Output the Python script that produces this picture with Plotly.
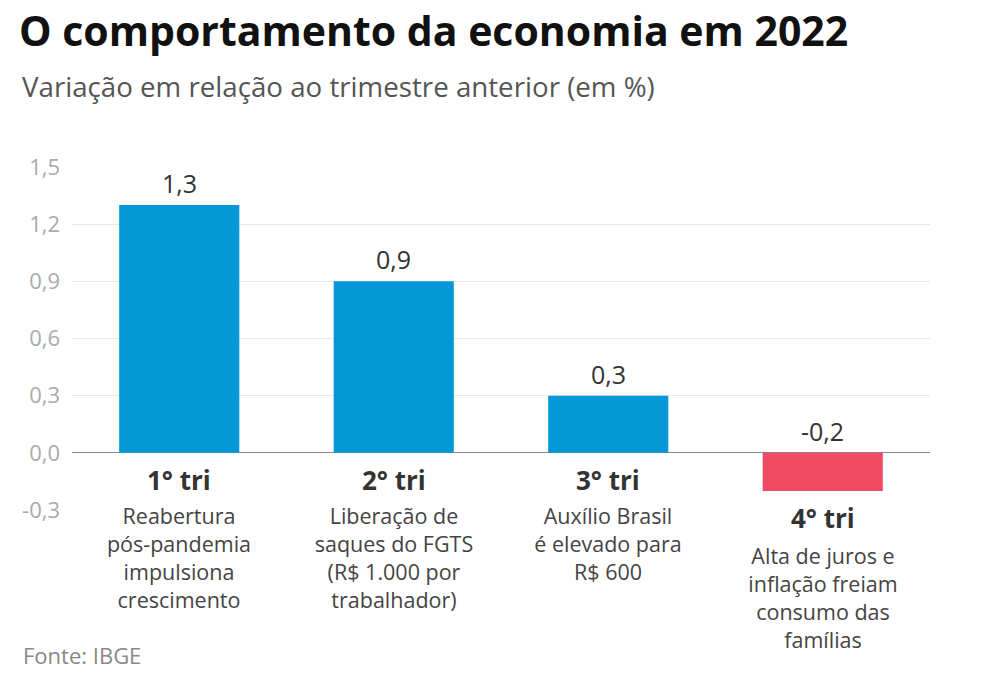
import plotly.graph_objects as go

categories = ["1° tri", "2° tri", "3° tri", "4° tri"]
values = [1.3, 0.9, 0.3, -0.2]
value_labels = ["1,3", "0,9", "0,3", "-0,2"]
descriptions = [
    ["Reabertura", "pós-pandemia", "impulsiona", "crescimento"],
    ["Liberação de", "saques do FGTS", "(R$ 1.000 por", "trabalhador)"],
    ["Auxílio Brasil", "é elevado para", "R$ 600"],
    ["Alta de juros e", "inflação freiam", "consumo das", "famílias"],
]
tick_vals = [-0.3, 0.0, 0.3, 0.6, 0.9, 1.2, 1.5]
tick_text = ["-0,3", "0,0", "0,3", "0,6", "0,9", "1,2", "1,5"]

FONT = "Open Sans"
BLUE = "#0497d8"
RED = "#ef4b63"
colors = [BLUE if v >= 0 else RED for v in values]

# layout constants (pixels, page coordinates)
W, H = 984, 684
ML, MR, MT, MB = 72, 54, 167, 174
PW = W - ML - MR
PH = H - MT - MB
DESC_SIZE = 21.5
LINE_PX = DESC_SIZE * 1.3

def py_to_paper(py):
    return (H - MB - py) / PH

def px_to_paper(px):
    return (px - ML) / PW

fig = go.Figure()
fig.add_trace(go.Bar(
    x=categories, y=values, marker_color=colors, marker_line_width=0,
    width=0.56, hoverinfo="skip",
))

annotations = []
for c, v, lab, lines in zip(categories, values, value_labels, descriptions):
    annotations.append(dict(
        x=c, y=max(v, 0), xref="x", yref="y", text=lab, showarrow=False,
        yanchor="bottom", yshift=3, font=dict(family=FONT, size=25, color="#333333"),
    ))
    neg = v < 0
    head_mid = 518 if neg else 480
    annotations.append(dict(
        x=c, y=py_to_paper(head_mid), xref="x", yref="paper",
        text="<b>" + c + "</b>", showarrow=False, yanchor="middle",
        font=dict(family=FONT, size=26, color="#333333"), bgcolor="white",
        borderpad=3,
    ))
    first_mid = 556 if neg else 516
    block_mid = first_mid + (len(lines) - 1) * LINE_PX / 2
    annotations.append(dict(
        x=c, y=py_to_paper(block_mid), xref="x", yref="paper",
        text="<br>".join(lines), showarrow=False, yanchor="middle",
        font=dict(family=FONT, size=DESC_SIZE, color="#444444"),
        bgcolor="white", borderpad=2, width=172,
    ))

annotations += [
    dict(x=px_to_paper(18), y=py_to_paper(0.5), xref="paper", yref="paper",
         xanchor="left", yanchor="top", showarrow=False, borderpad=0,
         text="<b>O comportamento da economia em 2022</b>",
         font=dict(family=FONT, size=41, color="#111111")),
    dict(x=px_to_paper(20), y=py_to_paper(86), xref="paper", yref="paper",
         xanchor="left", yanchor="middle", showarrow=False,
         text="Variação em relação ao trimestre anterior (em %)",
         font=dict(family=FONT, size=27.7, color="#555555")),
    dict(x=px_to_paper(21), y=py_to_paper(655), xref="paper", yref="paper",
         xanchor="left", yanchor="middle", showarrow=False,
         text="Fonte: IBGE",
         font=dict(family=FONT, size=22, color="#888888")),
]

fig.update_layout(
    width=W, height=H,
    margin=dict(l=ML, r=MR, t=MT, b=MB),
    paper_bgcolor="white", plot_bgcolor="white",
    showlegend=False,
    separators=",.",
    font=dict(family=FONT),
    xaxis=dict(showticklabels=False, showgrid=False, zeroline=False,
               range=[-0.5, 3.5], fixedrange=True),
    yaxis=dict(range=[-0.3, 1.5], tickvals=tick_vals, ticktext=tick_text,
               showgrid=True, gridcolor="#e8e8e8", gridwidth=1,
               zeroline=True, zerolinecolor="#888888", zerolinewidth=1.2,
               tickfont=dict(family=FONT, size=22, color="#aaaaaa"),
               ticklabelstandoff=11, fixedrange=True),
    annotations=annotations,
)

fig.write_html("out.html", config={"displayModeBar": False},
               post_script="document.body.style.margin='0';")
